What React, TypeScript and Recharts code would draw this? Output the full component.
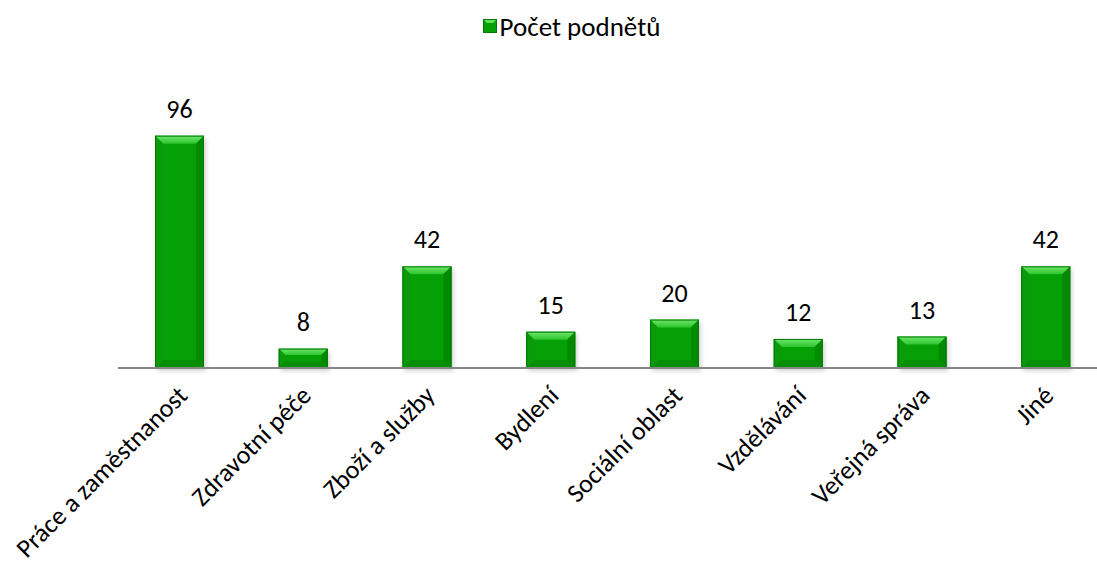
import React from 'react';
import { BarChart, Bar, XAxis, YAxis, LabelList, Legend } from 'recharts';

const categories = [
  'Práce a zaměstnanost',
  'Zdravotní péče',
  'Zboží a služby',
  'Bydlení',
  'Sociální oblast',
  'Vzdělávání',
  'Veřejná správa',
  'Jiné',
];
const values = [96, 8, 42, 15, 20, 12, 13, 42];
const seriesName = 'Počet podnětů';

const data = categories.map((c, i) => ({ name: c, value: values[i] }));

const FONT = 'Carlito, Calibri, Lato, "Open Sans", sans-serif';

const BevelBar = (props: any) => {
  const { x, y, width, height } = props;
  if (!height || height <= 0) return null;
  const b = Math.min(8, height / 3, width / 4);
  return (
    <g>
      <rect x={x + 2} y={y + 3} width={width} height={height} fill="rgba(0,0,0,0.18)" filter="url(#blurShadow)" />
      <rect x={x} y={y} width={width} height={height} fill="#05a005" />
      <polygon points={`${x},${y} ${x + width},${y} ${x + width - b},${y + b} ${x + b},${y + b}`} fill="url(#topBevel)" />
      <polygon points={`${x},${y} ${x + b},${y + b} ${x + b},${y + height - b} ${x},${y + height}`} fill="#0a9a0a" />
      <polygon points={`${x + width},${y} ${x + width - b},${y + b} ${x + width - b},${y + height - b} ${x + width},${y + height}`} fill="#038a03" />
      <polygon points={`${x},${y + height} ${x + b},${y + height - b} ${x + width - b},${y + height - b} ${x + width},${y + height}`} fill="#048e04" />
      <rect x={x + 0.5} y={y + 0.5} width={width - 1} height={height - 1} fill="none" stroke="#067806" strokeWidth={1} />
    </g>
  );
};

const Tick = (props: any) => {
  const { x, y, payload } = props;
  const ax = x + 9;
  const ay = y + 21;
  return (
    <text
      x={ax}
      y={ay}
      textAnchor="end"
      transform={`rotate(-45, ${ax}, ${ay})`}
      fontSize={26}
      fontFamily={FONT}
      fill="#000"
    >
      {payload.value}
    </text>
  );
};

const LegendContent = () => (
  <div style={{ display: 'flex', justifyContent: 'center', alignItems: 'center', fontFamily: FONT, fontSize: 27, color: '#000' }}>
    <svg width={15} height={15} style={{ marginRight: 2 }}>
      <rect x={0} y={0} width={14} height={14} fill="#05a005" />
      <polygon points="0,0 14,0 10,4 4,4" fill="#5fe05f" />
      <rect x={0.5} y={0.5} width={13} height={13} fill="none" stroke="#067806" />
    </svg>
    <span>{seriesName}</span>
  </div>
);

export default function App() {
  return (
    <div style={{ position: 'fixed', left: 0, top: 0, width: 1097, height: 565, overflow: 'hidden', background: '#fff' }}>
      <BarChart
        width={1110}
        height={565}
        data={data}
        margin={{ top: 102, right: 2, left: 118, bottom: 0 }}
      >
        <defs>
          <linearGradient id="topBevel" x1="0" y1="0" x2="0" y2="1">
            <stop offset="0%" stopColor="#6ee86e" />
            <stop offset="100%" stopColor="#2cc42c" />
          </linearGradient>
          <filter id="blurShadow" x="-20%" y="-20%" width="140%" height="140%">
            <feGaussianBlur stdDeviation="2" />
          </filter>
        </defs>
        <Legend
          verticalAlign="top"
          align="center"
          content={<LegendContent />}
          wrapperStyle={{ position: 'absolute', top: 10, left: 23, width: 1097, height: 24 }}
        />
        <XAxis
          dataKey="name"
          interval={0}
          height={197}
          tickLine={false}
          axisLine={{ stroke: '#868686', strokeWidth: 2 }}
          tick={<Tick />}
        />
        <YAxis hide domain={[0, 100]} />
        <Bar dataKey="value" name={seriesName} barSize={49} shape={<BevelBar />} isAnimationActive={false}>
          <LabelList dataKey="value" position="top" offset={18} fontSize={26} fontFamily={FONT} fill="#000" />
        </Bar>
      </BarChart>
    </div>
  );
}
